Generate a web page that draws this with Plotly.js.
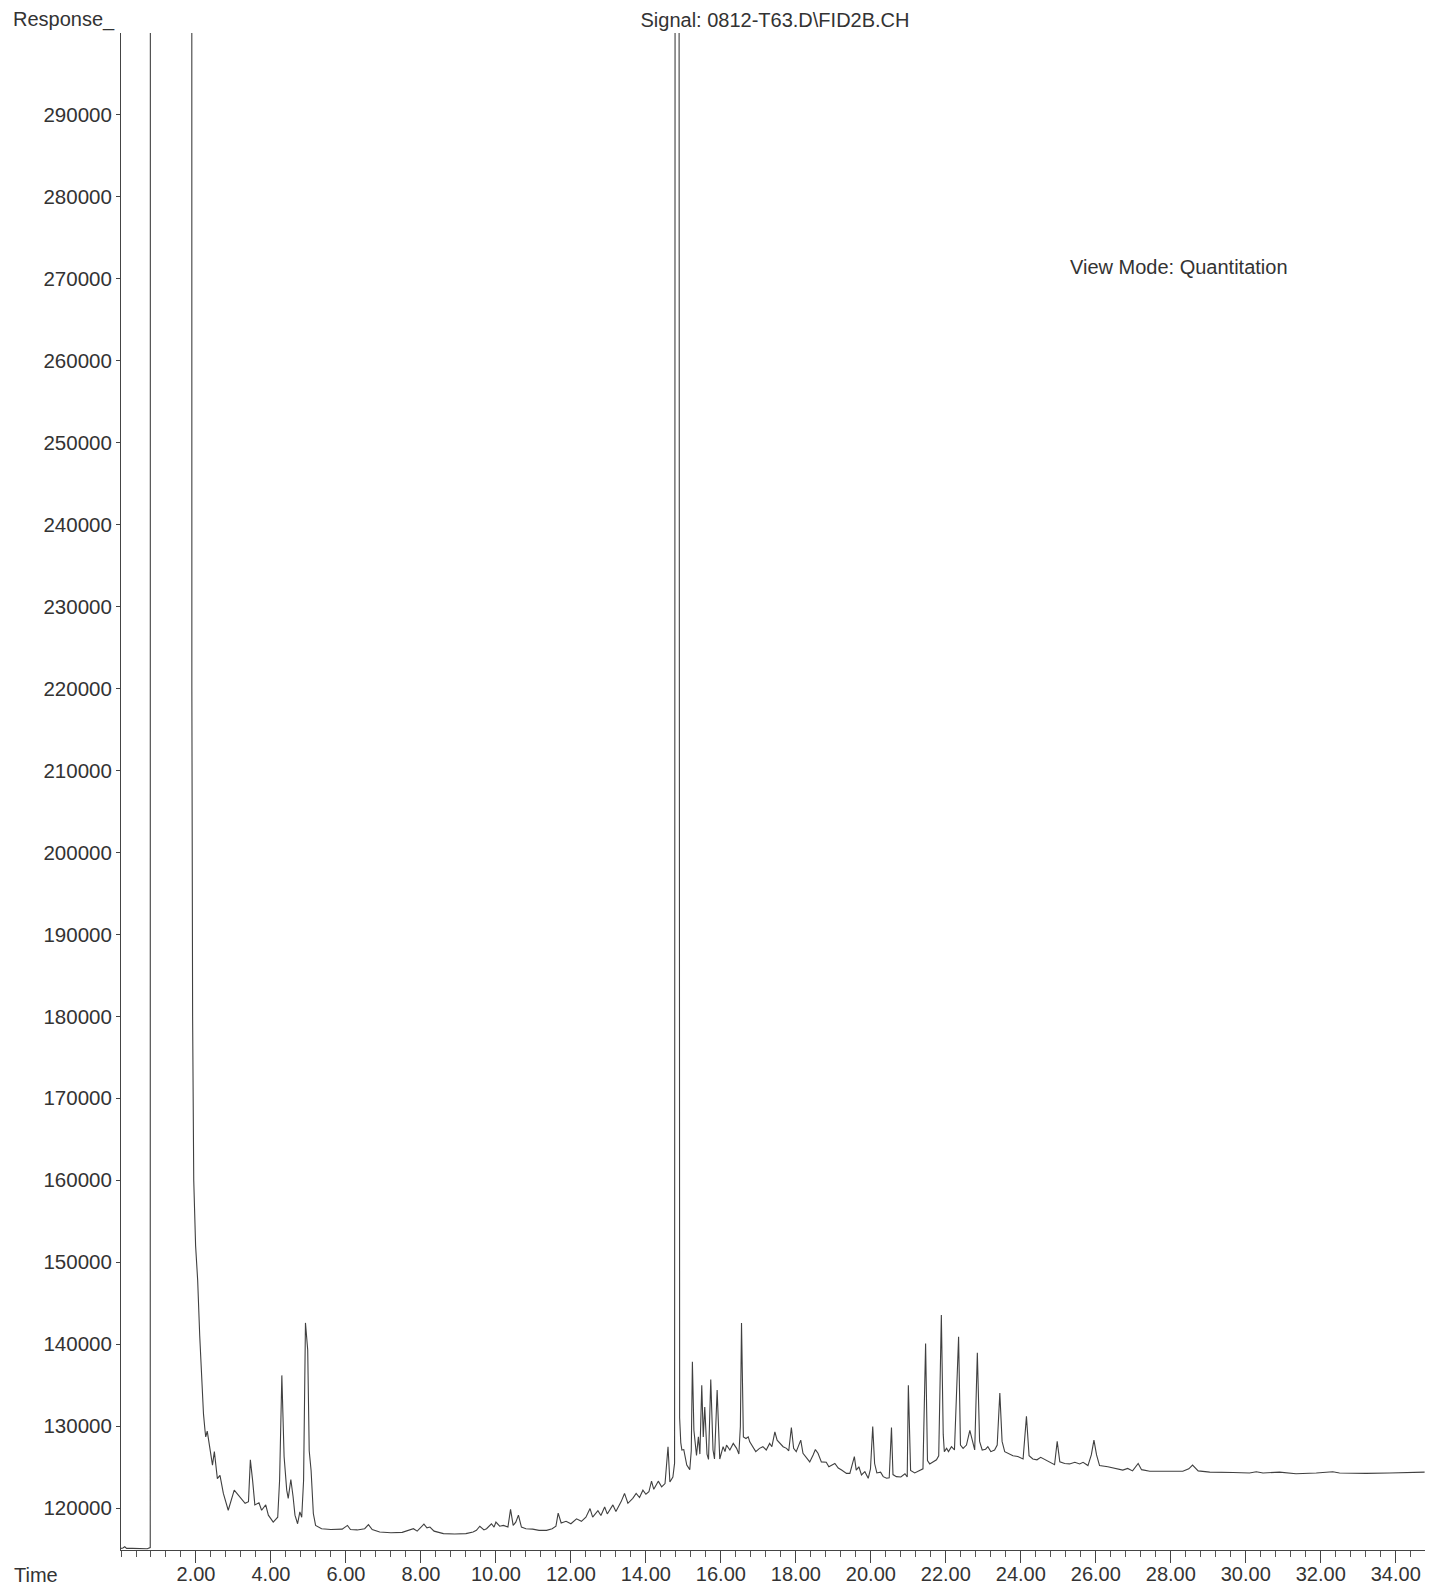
<!DOCTYPE html>
<html>
<head>
<meta charset="utf-8">
<script src="https://cdn.plot.ly/plotly-3.0.1.min.js"></script>
<style>html,body{margin:0;padding:0;background:#fff;}#chart{width:1429px;height:1587px;}</style>
</head>
<body>
<div id="chart"></div>
<script>
// Retention time (min)
const timeMin = [
0.00,0.05,0.10,0.15,0.30,0.50,0.70,0.78,0.81,1.86,1.875,1.89,1.91,1.94,1.99,2.045,2.10,2.15,2.20,2.24,
2.26,2.30,2.37,2.44,2.49,2.57,2.64,2.73,2.86,2.95,3.02,3.13,3.31,3.40,3.45,3.51,3.57,3.68,3.75,3.86,
3.93,4.06,4.18,4.23,4.29,4.35,4.42,4.46,4.53,4.59,4.64,4.71,4.77,4.82,4.87,4.92,4.98,5.02,5.04,5.07,
5.13,5.19,5.35,5.60,5.90,6.04,6.12,6.30,6.50,6.60,6.70,6.90,7.20,7.50,7.80,7.90,8.08,8.16,8.24,8.35,
8.60,8.90,9.20,9.39,9.48,9.57,9.68,9.75,9.88,9.95,10.00,10.10,10.20,10.32,10.39,10.46,10.53,10.60,10.68,10.80,
10.98,11.15,11.35,11.50,11.60,11.66,11.74,11.87,12.00,12.15,12.28,12.40,12.51,12.58,12.72,12.80,12.90,12.97,13.12,13.20,
13.34,13.43,13.52,13.65,13.74,13.83,13.92,14.00,14.08,14.15,14.21,14.33,14.42,14.51,14.59,14.64,14.72,14.765,14.80,14.86,
14.90,14.93,14.96,15.01,15.09,15.17,15.21,15.24,15.28,15.31,15.35,15.40,15.44,15.49,15.53,15.57,15.63,15.67,15.73,15.79,
15.83,15.90,15.95,15.97,16.06,16.11,16.15,16.24,16.33,16.42,16.48,16.52,16.55,16.58,16.60,16.67,16.73,16.77,16.86,16.93,
17.03,17.12,17.21,17.30,17.36,17.44,17.50,17.57,17.66,17.75,17.81,17.88,17.94,18.01,18.13,18.19,18.28,18.37,18.46,18.52,
18.59,18.68,18.81,18.88,19.04,19.13,19.22,19.35,19.44,19.56,19.61,19.68,19.75,19.84,19.93,19.99,20.05,20.10,20.16,20.26,
20.33,20.42,20.49,20.55,20.59,20.68,20.80,20.91,20.97,21.00,21.06,21.17,21.30,21.39,21.46,21.51,21.57,21.66,21.75,21.81,
21.88,21.93,21.96,22.02,22.07,22.15,22.23,22.34,22.39,22.46,22.55,22.64,22.73,22.77,22.84,22.90,22.97,23.06,23.12,23.20,
23.30,23.37,23.44,23.50,23.57,23.66,23.79,23.92,24.06,24.15,24.22,24.32,24.43,24.53,24.68,24.81,24.90,24.97,25.04,25.17,
25.30,25.44,25.57,25.66,25.79,25.88,25.95,26.02,26.10,26.32,26.50,26.72,26.85,26.98,27.13,27.22,27.44,27.88,28.32,28.48,
28.58,28.73,29.04,29.66,30.10,30.28,30.46,30.90,31.34,31.88,32.32,32.50,33.21,33.83,34.77
];
// FID response
const response = [
115100,115150,115300,115100,115100,115050,115050,115200,2000000,2000000,300000,220000,180000,160000,152000,147800,141000,135600,131500,129500,
128700,129400,127500,125250,126900,123600,124000,121800,119750,121300,122200,121600,120600,120800,125900,123400,120400,120650,119750,120400,
119150,118300,118900,123400,136200,126300,122200,121200,123500,121400,119150,118100,119550,118900,123400,142600,139300,127000,125900,124600,
119350,117900,117500,117400,117450,117900,117400,117350,117500,118000,117400,117100,117000,117050,117500,117200,118050,117600,117700,117200,
116900,116850,116900,117100,117300,117800,117350,117500,118100,117700,118300,117800,117900,117700,119850,117900,118300,119150,117700,117500,
117450,117300,117300,117500,117800,119400,118200,118400,118100,118700,118400,118900,119950,118900,119700,119100,120150,119300,120400,119600,
120800,121800,120600,121200,121800,121300,122200,121700,122000,123300,122300,123300,122600,123000,127500,123200,123800,125500,600000,600000,
131000,128000,127100,127150,125250,124700,127000,137850,129500,127900,126450,128700,126600,135000,128700,132350,126600,125950,135700,127100,
126000,134400,127000,126000,127500,126900,127700,127100,127900,127300,126600,130000,142600,133000,128700,128500,128700,128100,127500,126900,
127300,127500,127100,127900,127500,129300,128300,127900,127500,127300,127000,129850,127300,126900,128300,126700,126100,125650,126500,127150,
126700,125650,125600,125050,125450,124900,124650,124250,124250,126300,124650,125050,124050,124450,123650,124800,129950,125450,124300,124400,
123850,123650,123700,129850,124100,123850,123800,124200,123800,135000,124600,124300,124600,124800,140100,125800,125400,125600,125900,126400,
143550,129000,126900,127300,126900,127500,127100,140900,127700,127300,127700,129500,127600,127100,138950,128150,127100,127200,127500,126900,
127100,127700,134050,128150,126900,126700,126400,126300,126000,131200,126400,126000,125900,126200,125800,125450,125300,128150,125650,125450,
125400,125600,125400,125600,125200,126500,128300,126500,125200,125050,124900,124650,124850,124550,125450,124700,124500,124500,124500,124800,
125250,124550,124400,124350,124300,124450,124300,124400,124200,124300,124450,124300,124250,124300,124400
];
const xTickVals = [2,4,6,8,10,12,14,16,18,20,22,24,26,28,30,32,34];
const xTickText = ["2.00","4.00","6.00","8.00","10.00","12.00","14.00","16.00","18.00","20.00","22.00","24.00","26.00","28.00","30.00","32.00","34.00"];
const yTickVals = [120000,130000,140000,150000,160000,170000,180000,190000,200000,210000,220000,230000,240000,250000,260000,270000,280000,290000];
const titleText = "Signal: 0812-T63.D\\FID2B.CH";

const W = 1429, H = 1587;
const mL = 121, mR = 4, mT = 33, mB = 37;
const pw = W - mL - mR, ph = H - mT - mB;
const px = x => (x - mL) / pw;
const py = y => (H - mB - y) / ph;

const font = {family: "Liberation Sans, Arial, sans-serif", size: 20, color: "#333"};
const yFont = {family: "Liberation Sans, Arial, sans-serif", size: 20.5, color: "#333"};

const trace = {
  x: timeMin, y: response, type: "scatter", mode: "lines",
  line: {color: "#404040", width: 1.1}, hoverinfo: "skip"
};

const layout = {
  width: W, height: H,
  margin: {l: mL, r: mR, t: mT, b: mB, pad: 0},
  paper_bgcolor: "#fff", plot_bgcolor: "#fff",
  showlegend: false,
  font: font,
  title: {text: titleText, font: font, xref: "container", yref: "container",
          x: 775 / W, y: 1 - 20 / H, xanchor: "center", yanchor: "middle"},
  xaxis: {
    range: [0, 34.78], showgrid: false, zeroline: false,
    showline: true, linecolor: "#444", linewidth: 1,
    tickmode: "array", tickvals: xTickVals, ticktext: xTickText,
    ticks: "outside", ticklen: 12, tickcolor: "#444", tickwidth: 1,
    ticklabelstandoff: -6,
    tickfont: font,
    minor: {dtick: 0.4, tick0: 0, ticks: "outside", ticklen: 6, tickcolor: "#555", tickwidth: 1, showgrid: false}
  },
  yaxis: {
    range: [114900, 299950], showgrid: false, zeroline: false,
    showline: true, linecolor: "#444", linewidth: 1,
    tickmode: "array", tickvals: yTickVals, ticktext: yTickVals.map(String),
    ticks: "outside", ticklen: 4, tickcolor: "#444", tickwidth: 1,
    tickfont: yFont
  },
  annotations: [
    {text: "Response_", xref: "paper", yref: "paper", x: px(11), y: py(20), xanchor: "left", yanchor: "middle", showarrow: false, font: font},
    {text: "Time", xref: "paper", yref: "paper", x: px(12), y: py(1575), xanchor: "left", yanchor: "middle", showarrow: false, font: font},
    {text: "View Mode: Quantitation", xref: "paper", yref: "paper", x: px(1068), y: py(267), xanchor: "left", yanchor: "middle", showarrow: false, font: font}
  ]
};

Plotly.newPlot("chart", [trace], layout, {staticPlot: true, displayModeBar: false});
</script>
</body>
</html>
